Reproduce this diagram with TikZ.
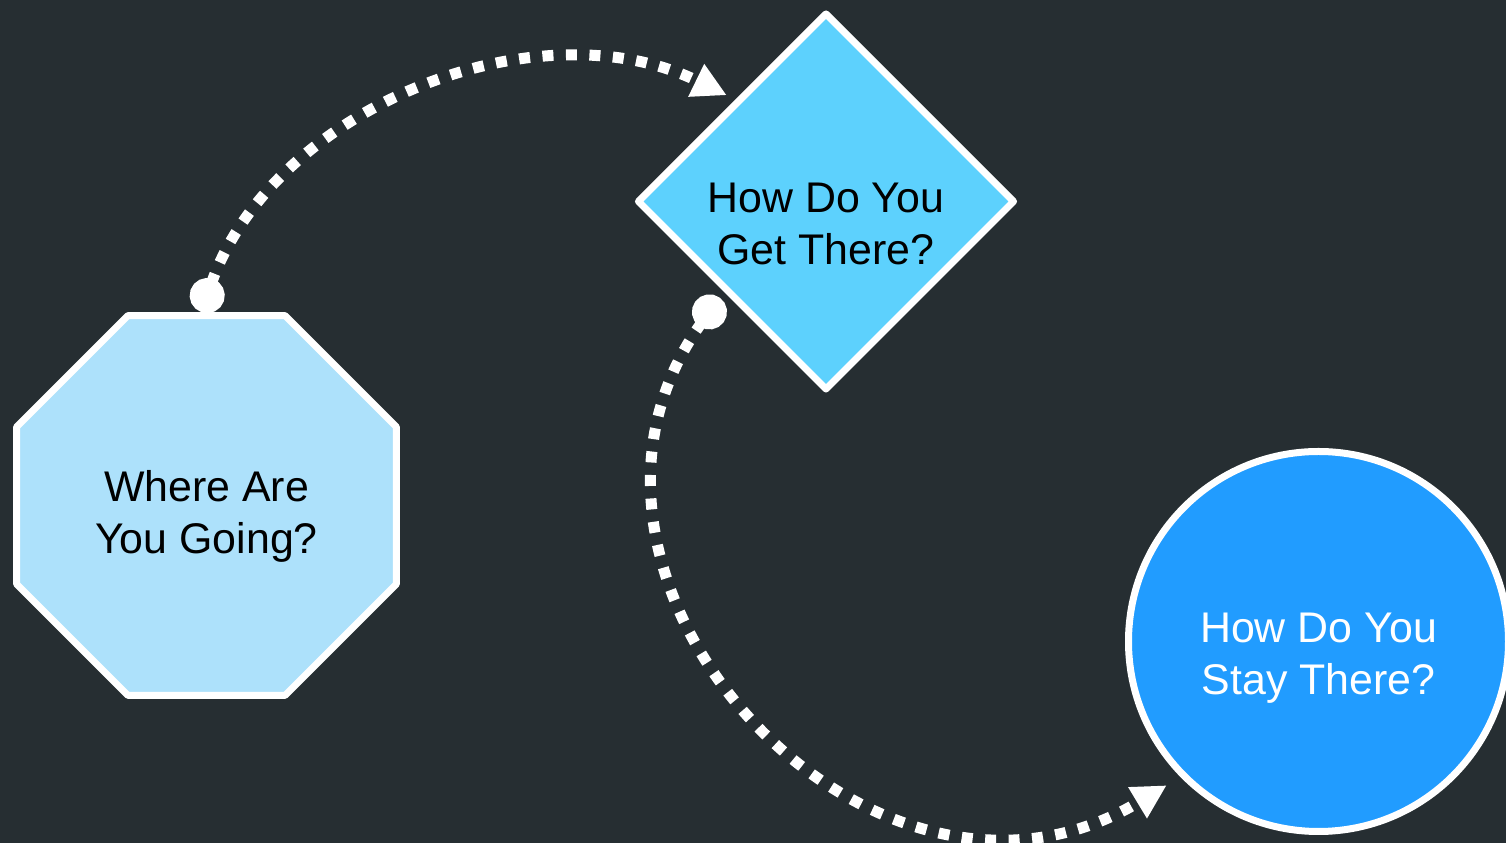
\documentclass[tikz,border=0pt]{standalone}
\usepackage{fontspec}
\setmainfont{Liberation Sans}
\usepackage{xcolor}
\usetikzlibrary{positioning,arrows.meta,shapes.geometric}

\definecolor{bgdark}{HTML}{262E32}
\definecolor{octblue}{HTML}{ADE1FB}
\definecolor{diablue}{HTML}{5DD1FD}
\definecolor{circblue}{HTML}{219CFF}

\begin{document}
\begin{tikzpicture}[
      octo/.style={regular polygon, regular polygon sides=8, draw=white, line width=0.07cm, line join=round, fill=octblue, minimum size=4.11cm, inner sep=0pt},
      dia/.style={diamond, draw=white, line width=0.07cm, line join=round, fill=diablue, minimum size=3.78cm, inner sep=0pt},
      circ/.style={circle, draw=white, line width=0.07cm, fill=circblue, minimum size=3.8cm, inner sep=0pt},
      txt/.style={align=center, font=\fontsize{12.2}{14.8}\selectfont},
      arrow/.style={{Circle[length=0.35cm]}-{Triangle[length=0.34cm,width=0.34cm]}, draw=white, line width=0.11cm, dash pattern=on 0.11cm off 0.125cm}
  ]
  \fill[bgdark] (0,0) rectangle (15.06,8.43);
  \useasboundingbox (0,0) rectangle (15.06,8.43);
  % Nodes
  \node[octo, label={[txt, yshift=-0.105cm]center:Where Are\\You Going?}] (going) at (2.065,3.375) {};
  \node[dia, label={[txt, yshift=-0.225cm]center:How Do You\\Get There?}] (get) at (8.26,6.415) {};
  \node[circ, label={[txt, text=white, yshift=-0.165cm]center:How Do You\\Stay There?}] (stay) at (13.185,2.015) {};
  % Arrows
  \draw[arrow] ([xshift=-0.5mm]going.north) to[out=71, in=154, looseness=0.96] ([xshift=-0.3mm,yshift=1mm]get.north west);
  \draw[arrow] ([xshift=-1mm]get.south west) to[out=234, in=211, looseness=1.34] ([xshift=-1.5mm,yshift=-0.7mm]stay.south west);
\end{tikzpicture}
\end{document}
